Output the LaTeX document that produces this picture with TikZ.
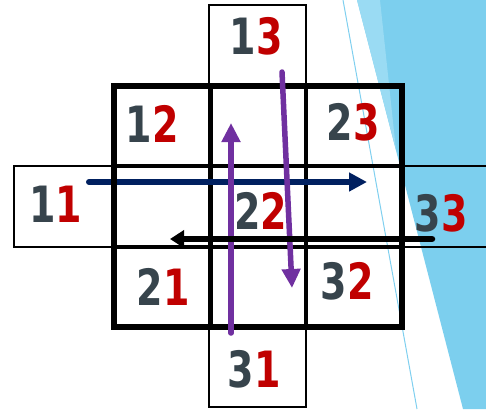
\documentclass[tikz,border=0pt]{standalone}
\usepackage{fontspec}
\newfontfamily\digitfont[FakeStretch=0.76]{DejaVu Sans Bold}
\usetikzlibrary{arrows.meta}
\definecolor{slate}{HTML}{37444C}
\definecolor{dred}{HTML}{C00000}
\definecolor{navyarrow}{HTML}{002060}
\definecolor{purplearrow}{HTML}{7030A0}
\definecolor{skyfill}{HTML}{7CCFEE}
\definecolor{skylight}{HTML}{9ADBF3}
\definecolor{skyline}{HTML}{7FCFEF}
\begin{document}
\begin{tikzpicture}[x=1pt,y=-1pt,
  lbl/.style={inner sep=0pt, font=\digitfont\fontsize{50}{50}\selectfont},
  stripline/.style={line width=2.5pt, line join=miter},
  gridline/.style={line width=3.5pt},
  gridouter/.style={line width=6pt, line join=miter},
  navyarr/.style={navyarrow, line width=6pt, line cap=round, -{Triangle[length=18pt,width=18pt]}},
  purplearr/.style={purplearrow, line width=5.5pt, line cap=round, -{Triangle[length=19pt,width=18pt]}},
  blackarr/.style={black, line width=6.5pt, line cap=round, -{Triangle[length=14pt,width=17pt]}}]
\useasboundingbox (0,0) rectangle (486,409);
\clip (0,0) rectangle (486,409);
% background
\fill[skyfill] (357,0) -- (486,0) -- (486,409) -- (463,409) -- cycle;
\fill[skylight] (357,0) -- (380,0) -- (396,150) -- cycle;
\draw[skyline, line width=1pt] (343,0) -- (417,409);
% strips
\draw[stripline] (209,5) rectangle (306,407);
\draw[stripline] (495,166) -- (14,166) -- (14,247) -- (495,247);
% grid inner lines
\draw[gridline] (211,86) -- (211,327);
\draw[gridline] (306,86) -- (306,327);
\draw[gridline] (114,166) -- (402,166);
\draw[gridline] (114,247) -- (402,247);
% labels
\node[lbl] (n13) at (256,36.7) {\textcolor{slate}{1}\textcolor{dred}{3}};
\node[lbl] (n12) at (152,124) {\textcolor{slate}{1}\textcolor{dred}{2}};
\node[lbl] (n23) at (353,122.5) {\textcolor{slate}{2}\textcolor{dred}{3}};
\node[lbl] (n11) at (55.5,204) {\textcolor{slate}{1}\textcolor{dred}{1}};
\node[lbl] (n22) at (260.5,211) {\textcolor{slate}{2}\textcolor{dred}{2}};
\node[lbl] (n33) at (441,213.5) {\textcolor{slate}{3}\textcolor{dred}{3}};
\node[lbl] (n21) at (163,287) {\textcolor{slate}{2}\textcolor{dred}{1}};
\node[lbl] (n32) at (347,281) {\textcolor{slate}{3}\textcolor{dred}{2}};
\node[lbl] (n31) at (254,369) {\textcolor{slate}{3}\textcolor{dred}{1}};
% arrow end points
\coordinate (nvS) at (89,182);
\coordinate (nvE) at (367,182);
\coordinate (puS) at (231,333);
\coordinate (puE) at (231,123);
\coordinate (pdS) at (282,72);
\coordinate (pdE) at (292,288);
\coordinate (bkS) at (432,239);
\coordinate (bkE) at (170,239);
% navy arrow under outer border
\draw[navyarr] (nvS) -- (nvE);
% outer border
\draw[gridouter] (114,86) rectangle (402,327);
% purple arrows
\draw[purplearr] (puS) -- (puE);
\draw[purplearr] (pdS) -- (pdE);
% black arrow
\draw[blackarr] (bkS) -- (bkE);
\end{tikzpicture}
\end{document}
